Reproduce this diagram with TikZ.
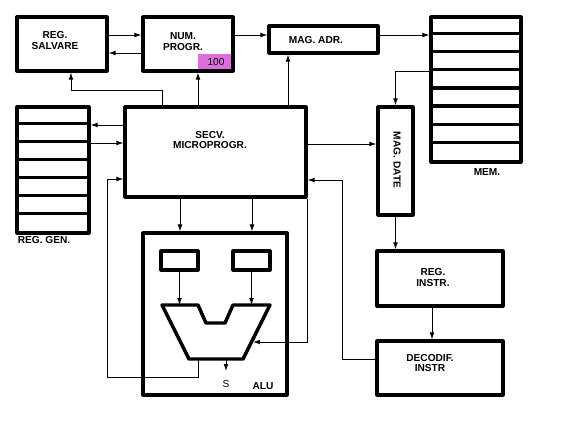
\documentclass[tikz,border=0pt]{standalone}
\usepackage{fontspec}
\setmainfont{Liberation Sans}
\usetikzlibrary{arrows.meta,calc}

\begin{document}
\begin{tikzpicture}[x=0.75pt,y=-0.75pt,
  box/.style={draw,line width=2.4pt,inner sep=0pt,line join=round},
  lbl/.style={font=\bfseries\fontsize{7.6}{8.2}\selectfont,align=center,inner sep=0pt},
  arr/.style={line width=0.7pt,-{Latex[length=5.2pt,width=3.6pt]}},
  wire/.style={line width=0.7pt}]
  \useasboundingbox (0,0) rectangle (567,425);
  \node[box,minimum width=67.5pt,minimum height=40.5pt] (salv) at (62,44) {};
  \node[lbl] (salvT) at (55,40.5) {REG.\\SALVARE};
  \node[fill={rgb,255:red,222;green,110;blue,222},minimum width=26.25pt,minimum height=12.75pt,inner sep=0pt] (tag) at (215.5,62.5) {};
  \node[inner sep=0pt,font=\fontsize{7.6}{8}\selectfont] (tagT) at (216,62) {100};
  \node[box,minimum width=67.5pt,minimum height=40.5pt] (nump) at (188,44) {};
  \node[lbl] (numpT) at (183,42) {NUM.\\PROGR.};
  \node[box,minimum width=81.75pt,minimum height=20.25pt] (madr) at (323.5,39.5) {};
  \node[lbl] (madrT) at (316,40) {MAG. ADR.};
  \node[box,minimum width=67.5pt,minimum height=108.75pt] (mem) at (476,89.5) {};
  \foreach \i in {1,...,7}
    \draw[line width=2.4pt] ($(mem.north west)+(0,\i*18.125)$) -- ($(mem.north east)+(0,\i*18.125)$);
  \node[lbl] (memT) at (487,172.5) {MEM.};
  \node[box,minimum width=135.75pt,minimum height=67.5pt] (secv) at (215.5,152) {};
  \node[lbl] (secvT) at (210,140) {SECV.\\MICROPROGR.};
  \node[box,minimum width=54pt,minimum height=94.5pt] (reggen) at (53,170) {};
  \foreach \i in {1,...,6}
    \draw[line width=2.4pt] ($(reggen.north west)+(0,\i*18)$) -- ($(reggen.north east)+(0,\i*18)$);
  \node[lbl] (reggenT) at (44,240.5) {REG. GEN.};
  \node[box,minimum width=26.25pt,minimum height=81pt] (mdate) at (395.5,161) {};
  \node[lbl,rotate=-90] (mdateT) at (397,160) {MAG. DATE};
  \node[box,minimum width=94.5pt,minimum height=41.25pt] (regi) at (440,278.5) {};
  \node[lbl] (regiT) at (433,277.5) {REG.\\INSTR.};
  \node[box,minimum width=94.5pt,minimum height=40.5pt] (dec) at (440,368) {};
  \node[lbl] (decT) at (430,363) {DECODIF.\\INSTR};
  \node[box,minimum width=108pt,minimum height=121.5pt] (alu) at (215,314) {};
  \node[box,minimum width=27.75pt,minimum height=14.25pt] (ra) at (179.5,260.5) {};
  \node[box,minimum width=27.75pt,minimum height=14.25pt] (rb) at (251.5,260.5) {};
  \draw[line width=2.6pt,line join=round] (162,305) -- (198,305) -- (206,323) -- (225,323) -- (233,305)
    -- (270,305) -- (243,359) -- (189,359) -- cycle;
  \coordinate (tin1) at (179.5,305);
  \coordinate (tin2) at (251.5,305);
  \coordinate (tout) at (226,359);
  \coordinate (tfb) at (198,359);
  \coordinate (tctl) at (253,342);
  \node[inner sep=0pt,font=\fontsize{7.6}{8}\selectfont] (sT) at (226,384) {S};
  \node[lbl] (aluT) at (263,386) {ALU};

  \draw[arr] (salv.east |- 0,35) -- (nump.west |- 0,35);
  \draw[arr] (nump.west |- 0,53) -- (salv.east |- 0,53);
  \draw[arr] (nump.east |- 0,35) -- (madr.west |- 0,35);
  \draw[arr] (madr.east |- 0,35) -- (mem.west |- 0,35);
  \draw[arr] (mem.west |- 0,71) -| (mdate.north);
  \draw[arr] (secv.east |- 0,144) -- (mdate.west |- 0,144);
  \draw[arr] (mdate.south) -- (regi.north -| mdate.south);
  \draw[arr] (regi.south -| 432,0) -- (dec.north -| 432,0);
  \draw[arr] (dec.west |- 0,359) -| (342,180) -- (secv.east |- 0,180);
  \draw[arr] (secv.north -| 162,0) |- (71,90) -- (salv.south -| 71,0);
  \draw[arr] (secv.north -| 198,0) -- (nump.south -| 198,0);
  \draw[arr] (secv.north -| 288,0) -- (madr.south -| 288,0);
  \draw[arr] (secv.west |- 0,125) -- (reggen.east |- 0,125);
  \draw[arr] (reggen.east |- 0,143) -- (secv.west |- 0,143);
  \draw[arr] (secv.south -| 180,0) -- (alu.north -| 180,0);
  \draw[arr] (secv.south -| 252,0) -- (alu.north -| 252,0);
  \draw[arr] (ra.south) -- (tin1);
  \draw[arr] (rb.south) -- (tin2);
  \draw[arr] (secv.south east) |- (tctl);
  \draw[arr] (tfb) -- (198,377) -| (107,179) -- (secv.west |- 0,179);
  \draw[arr] (tout) -- ++(0,12);
\end{tikzpicture}
\end{document}
